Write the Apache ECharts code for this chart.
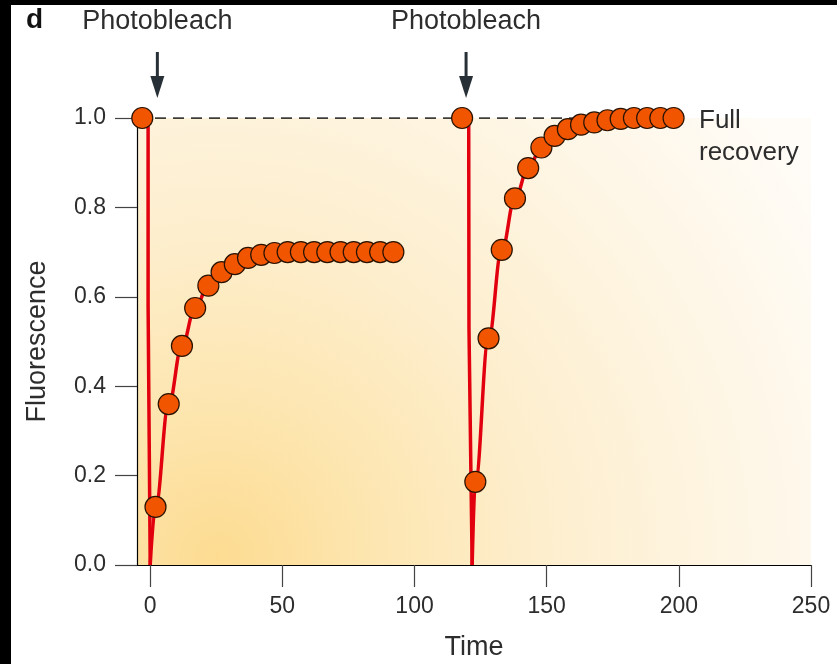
<!DOCTYPE html>
<html>
<head>
<meta charset="utf-8">
<script src="https://cdn.jsdelivr.net/npm/echarts@6/dist/echarts.min.js"></script>
<style>
  html, body { margin: 0; padding: 0; background: #ffffff; }
  #chart { width: 837px; height: 664px; }
</style>
</head>
<body>
<div id="chart"></div>
<script>
const FONT = '"Liberation Sans", Arimo, Helvetica, Arial, sans-serif';
const TEXT = '#2d2d2d';

// First photobleach: measured fluorescence (pre-bleach point, then recovery)
const time1  = [-3, 2, 7, 12, 17, 22, 27, 32, 37, 42, 47, 52, 57, 62, 67, 72, 77, 82, 87, 92];
const fluor1 = [1.0, 0.13, 0.36, 0.49, 0.575, 0.625, 0.655, 0.673, 0.687, 0.694, 0.698, 0.70, 0.70, 0.70, 0.70, 0.70, 0.70, 0.70, 0.70, 0.70];

// Second photobleach: measured fluorescence
const time2  = [118, 123, 128, 133, 138, 143, 148, 153, 158, 163, 168, 173, 178, 183, 188, 193, 198];
const fluor2 = [1.0, 0.186, 0.507, 0.705, 0.82, 0.888, 0.934, 0.96, 0.975, 0.985, 0.99, 0.995, 0.998, 1.0, 1.0, 1.0, 1.0];

// Bleach drop of the fitted curve (fluorescence falls to zero)
const dropTime1  = [-0.8, -0.8, 0];
const dropValue1 = [1.0, 0.58, 0];
const dropTime2  = [120.5, 120.6, 121.8];
const dropValue2 = [1.0, 0.53, 0];

// Fitted recovery curves
const fitTime1  = [0, 2, 7, 12, 17, 22, 27, 32, 37, 42, 47, 52, 62, 72, 82, 92];
const fitValue1 = [0, 0.13, 0.36, 0.49, 0.575, 0.625, 0.655, 0.673, 0.687, 0.694, 0.698, 0.70, 0.70, 0.70, 0.70, 0.70];
const fitTime2  = [121.8, 123, 128, 133, 138, 143, 148, 153, 158, 163, 168, 173, 178, 183, 198];
const fitValue2 = [0, 0.186, 0.507, 0.705, 0.82, 0.888, 0.934, 0.96, 0.975, 0.985, 0.99, 0.995, 0.998, 1.0, 1.0];

// Full-recovery reference level
const fullTime  = [-5, 197];
const fullValue = [1.0, 1.0];

// Axis ticks
const xTicks = [0, 50, 100, 150, 200, 250];

// Annotation positions (time of each photobleach arrow)
const bleachArrowTimes = [2.7, 119.5];

const zip = (xs, ys) => xs.map((x, i) => [x, ys[i]]);

const chart = echarts.init(document.getElementById('chart'), null, { renderer: 'canvas' });

const dotStyle = {
  type: 'scatter',
  symbol: 'circle',
  symbolSize: 21,
  itemStyle: { color: '#f15500', borderColor: '#2a1200', borderWidth: 1.2, opacity: 1 },
  z: 5
};
const redLine = {
  type: 'line',
  symbol: 'none',
  lineStyle: { color: '#e2000f', width: 3.5 },
  z: 3
};

chart.setOption({
  animation: false,
  backgroundColor: '#ffffff',
  grid: {
    left: 137, right: 26, top: 118, bottom: 99,
    outerBoundsMode: 'none',
    containLabel: false,
    show: true,
    borderWidth: 0,
    backgroundColor: {
      type: 'radial', x: 0.12, y: 0.98, r: 1.6,
      colorStops: [
        { offset: 0, color: '#fddc92' },
        { offset: 0.2, color: '#fde5ae' },
        { offset: 0.45, color: '#fdeecd' },
        { offset: 0.75, color: '#fef6e6' },
        { offset: 1, color: '#fffcf8' }
      ]
    }
  },
  xAxis: {
    type: 'value',
    min: -5, max: 250,
    splitLine: { show: false },
    axisLine: { show: true, onZero: false, lineStyle: { color: '#000', width: 1.2 } },
    axisTick: { show: true, length: 22, customValues: xTicks, lineStyle: { color: '#444', width: 1.2 } },
    axisLabel: {
      customValues: xTicks, margin: 30,
      color: TEXT, fontFamily: FONT, fontSize: 23
    },
    name: 'Time', nameLocation: 'middle', nameGap: 69,
    nameTextStyle: { color: TEXT, fontFamily: FONT, fontSize: 27 }
  },
  yAxis: {
    type: 'value',
    min: 0, max: 1, interval: 0.2,
    splitLine: { show: false },
    axisLine: { show: true, onZero: false, lineStyle: { color: '#000', width: 1.2 } },
    axisTick: { show: true, length: 22, lineStyle: { color: '#444', width: 1.2 } },
    axisLabel: {
      margin: 31, color: TEXT, fontFamily: FONT, fontSize: 23,
      formatter: v => v.toFixed(1)
    },
    name: 'Fluorescence', nameLocation: 'middle', nameGap: 86,
    nameTextStyle: { color: TEXT, fontFamily: FONT, fontSize: 27 }
  },
  series: [
    {
      type: 'line', symbol: 'none', data: zip(fullTime, fullValue),
      lineStyle: { color: '#000', width: 1.5, type: [11, 7] }, z: 2
    },
    Object.assign({}, redLine, { data: zip(dropTime1, dropValue1) }),
    Object.assign({}, redLine, { data: zip(dropTime2, dropValue2) }),
    Object.assign({}, redLine, { data: zip(fitTime1, fitValue1), smooth: 0.4, smoothMonotone: 'x' }),
    Object.assign({}, redLine, { data: zip(fitTime2, fitValue2), smooth: 0.4, smoothMonotone: 'x' }),
    Object.assign({}, dotStyle, { data: zip(time1, fluor1) }),
    Object.assign({}, dotStyle, { data: zip(time2, fluor2) })
  ]
});

// Annotations: panel letter, photobleach arrows, full-recovery label, frame edges
const arrowColor = '#263036';
const graphics = [
  { type: 'rect', shape: { x: 0, y: 0, width: 837, height: 5 }, style: { fill: '#000' }, z: 100 },
  { type: 'rect', shape: { x: 0, y: 0, width: 11, height: 664 }, style: { fill: '#000' }, z: 100 },
  {
    type: 'text', left: 26, top: 6,
    style: { text: 'd', font: 'bold 28px ' + FONT, fill: '#111' }, z: 100
  },
  {
    type: 'text', left: 699, top: 105,
    style: { text: 'Full\nrecovery', font: '26px ' + FONT, fill: TEXT, lineHeight: 32 }, z: 100
  }
];
bleachArrowTimes.forEach(t => {
  const px = chart.convertToPixel({ xAxisIndex: 0 }, t);
  graphics.push({
    type: 'text', x: px, y: 22,
    style: { text: 'Photobleach', font: '27px ' + FONT, fill: TEXT, align: 'center', verticalAlign: 'middle' },
    z: 100
  });
  graphics.push({
    type: 'line', shape: { x1: px, y1: 52, x2: px, y2: 80 },
    style: { stroke: arrowColor, lineWidth: 3 }, z: 100
  });
  graphics.push({
    type: 'polygon', shape: { points: [[px - 7, 76], [px + 7, 76], [px, 98]] },
    style: { fill: arrowColor }, z: 100
  });
});
chart.setOption({ graphic: graphics });
</script>
</body>
</html>
